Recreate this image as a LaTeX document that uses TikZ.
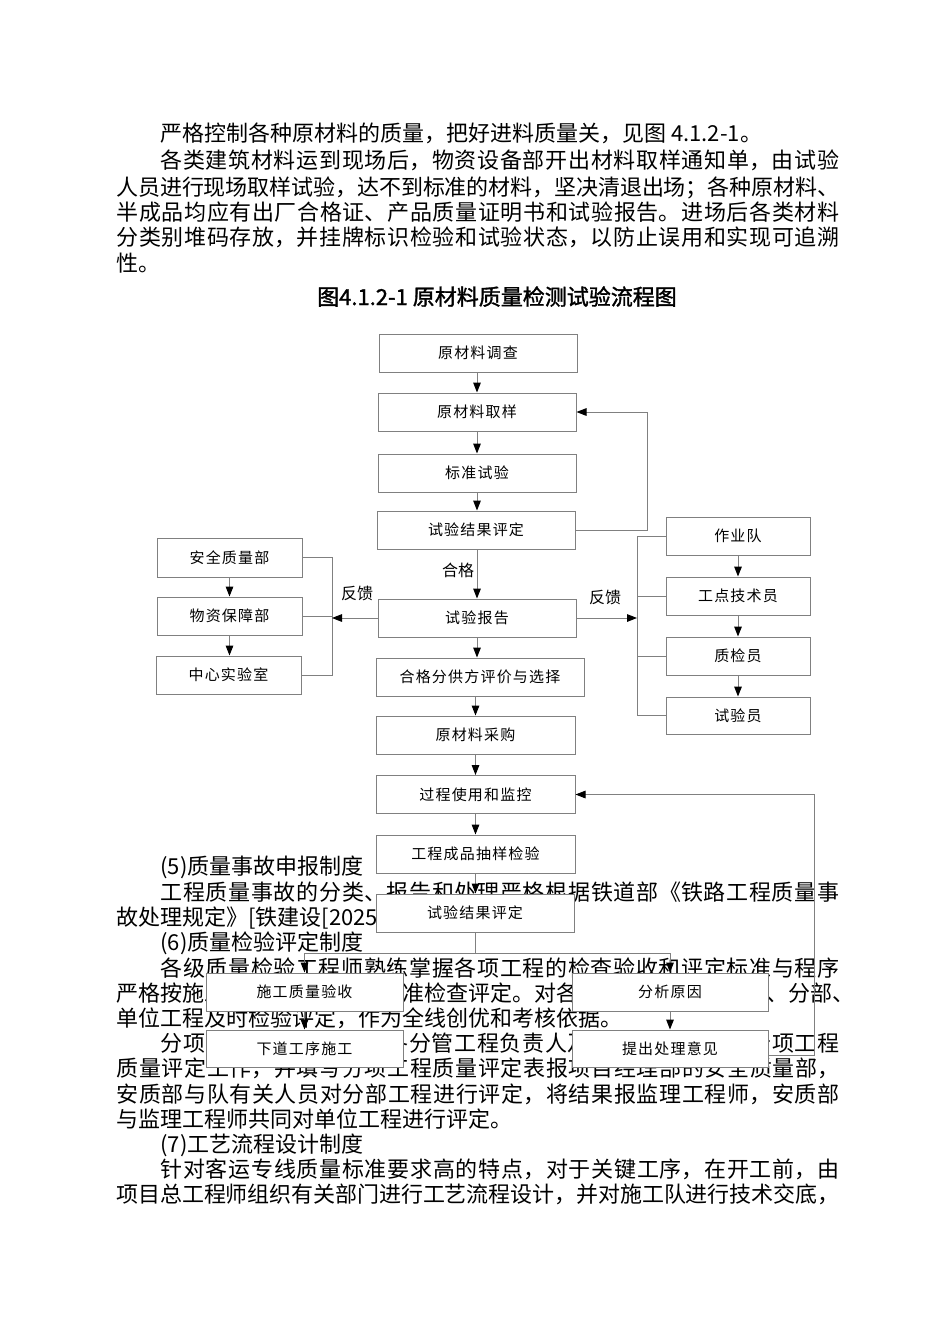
\documentclass[tikz,border=0pt]{standalone}
\usepackage{fontspec}
\setmainfont{Noto Sans CJK SC}
\newfontfamily\titlefont{Noto Sans CJK SC}[FakeBold=1.5]
\newfontfamily\boxfont{Noto Sans CJK SC}[LetterSpace=8]
\usetikzlibrary{arrows.meta}
\XeTeXlinebreaklocale "zh"
\XeTeXlinebreakskip=0pt plus 3pt minus 0.6pt
\definecolor{lg}{RGB}{128,128,128}
\newcommand\jl[3]{\node[txt] at (#1,#2+8) {\parbox[b]{\dimexpr(839pt-#1pt)/2\relax}{\tolerance=10000\parfillskip=0pt\noindent #3}};}
\newcommand\nl[3]{\node[txt] at (#1,#2+8) {#3};}
\begin{document}
\begin{tikzpicture}[x=0.5pt,y=-0.5pt,
  txt/.style={anchor=base west,inner sep=0pt,font=\fontsize{11pt}{13pt}\selectfont},
  box/.style={draw=lg,fill=white,line width=0.5pt,inner sep=0pt,font=\boxfont\fontsize{7.5pt}{9pt}\selectfont},
  lab/.style={inner sep=0pt,font=\fontsize{8pt}{10pt}\selectfont},
  ln/.style={draw=lg,line width=0.5pt},
  arr/.style={ln,-{Triangle[length=5pt,width=3.8pt,color=black]}}]
\fill[white] (0,0) rectangle (950,1344);
\useasboundingbox (0,0) rectangle (950,1344);

% ---- upper text ----
\nl{160}{133}{严格控制各种原材料的质量，把好进料质量关，见图 4.1.2-1。}
\jl{160}{160}{各类建筑材料运到现场后，物资设备部开出材料取样通知单，由试验}
\jl{116}{187}{人员进行现场取样试验，达不到标准的材料，坚决清退出场；各种原材料、}
\jl{116}{212}{半成品均应有出厂合格证、产品质量证明书和试验报告。进场后各类材料}
\jl{116}{237}{分类别堆码存放，并挂牌标识检验和试验状态，以防止误用和实现可追溯}
\nl{116}{263}{性。}
\node[inner sep=0pt,anchor=base,font=\titlefont\fontsize{11pt}{13pt}\selectfont] (title) at (497,305) {图4.1.2-1 原材料质量检测试验流程图};

% ---- lower text ----
\nl{160}{866}{(5)质量事故申报制度}
\jl{160}{892}{工程质量事故的分类、报告和处理严格根据铁道部《铁路工程质量事}
\nl{116}{917}{故处理规定》[铁建设[2025]号]执行。}
\nl{160}{942}{(6)质量检验评定制度}
\jl{160}{968}{各级质量检验工程师熟练掌握各项工程的检查验收和评定标准与程序}
\nl{116}{993}{严格按施工技术规范和验收标准检查评定。对各检验批、分项工程}
\nl{766}{993}{、分部、}
\nl{116}{1018}{单位工程及时检验评定，作为全线创优和考核依据。}
\jl{160}{1043}{分项工程完成后，先由各分管工程负责人及质检工程师进行分项工程}
\jl{116}{1068}{质量评定工作，并填写分项工程质量评定表报项目经理部的安全质量部，}
\jl{116}{1094}{安质部与队有关人员对分部工程进行评定，将结果报监理工程师，安质部}
\nl{116}{1119}{与监理工程师共同对单位工程进行评定。}
\nl{160}{1144}{(7)工艺流程设计制度}
\jl{160}{1169}{针对客运专线质量标准要求高的特点，对于关键工序，在开工前，由}
\jl{116}{1194}{项目总工程师组织有关部门进行工艺流程设计，并对施工队进行技术交底，}

% ---- boxes ----
\node[box,minimum width=99pt,minimum height=19pt] (b1) at (478,353) {原材料调查};
\node[box,minimum width=99pt,minimum height=19pt] (b2) at (477,412) {原材料取样};
\node[box,minimum width=99pt,minimum height=19pt] (b3) at (477,473) {标准试验};
\node[box,minimum width=99pt,minimum height=19pt] (b4) at (476,530) {试验结果评定};
\node[box,minimum width=99pt,minimum height=19pt] (b5) at (477,618) {试验报告};
\node[box,minimum width=104pt,minimum height=19pt] (b6) at (480,677) {合格分供方评价与选择};
\node[box,minimum width=99.5pt,minimum height=19pt] (b7) at (475.5,735) {原材料采购};
\node[box,minimum width=99.5pt,minimum height=19pt] (b8) at (475.5,794.5) {过程使用和监控};
\node[box,minimum width=99.5pt,minimum height=19pt] (b9) at (475.5,854) {工程成品抽样检验};
\node[box,minimum width=99pt,minimum height=19pt] (b10) at (475,913) {试验结果评定};
\node[box,minimum width=98.5pt,minimum height=19pt] (b11) at (304.5,992) {施工质量验收};
\node[box,minimum width=98.5pt,minimum height=18.5pt] (b12) at (304.5,1048.5) {下道工序施工};
\node[box,minimum width=98pt,minimum height=19pt] (b13) at (670,992) {分析原因};
\node[box,minimum width=98pt,minimum height=18.5pt] (b14) at (670,1048.5) {提出处理意见};
\node[box,minimum width=72.5pt,minimum height=19.5pt] (l1) at (229.5,557.5) {安全质量部};
\node[box,minimum width=72.5pt,minimum height=19pt] (l2) at (229.5,616) {物资保障部};
\node[box,minimum width=72.5pt,minimum height=19pt] (l3) at (228.5,675) {中心实验室};
\node[box,minimum width=72pt,minimum height=19pt] (r1) at (738,536) {作业队};
\node[box,minimum width=72pt,minimum height=19pt] (r2) at (738,596) {工点技术员};
\node[box,minimum width=72pt,minimum height=19pt] (r3) at (738,656) {质检员};
\node[box,minimum width=72pt,minimum height=18.5pt] (r4) at (738,715.5) {试验员};

% ---- labels ----
\node[lab] (hg) at (458,570) {合格};
\node[lab] (fk1) at (357,593) {反馈};
\node[lab] (fk2) at (605,597) {反馈};

% ---- main column ----
\draw[arr] (b1.south -| b2.north) -- (b2.north);
\draw[arr] (b2.south) -- (b2.south |- b3.north);
\draw[arr] (b3.south) -- (b3.south |- b4.north);
\draw[arr] (b5.north |- b4.south) -- (b5.north);
\draw[arr] (b5.south) -- (b5.south |- b6.north);
\draw[arr] (b7.north |- b6.south) -- (b7.north);
\draw[arr] (b7.south) -- (b8.north);
\draw[arr] (b8.south) -- (b9.north);
\draw[arr] (b9.south) -- (b9.south |- b10.north);
\coordinate (fa) at (647,530);
\draw[arr] (b4.east) -- (fa) |- (b2.east);

% ---- left feedback ----
\coordinate (lbar) at (332,618);
\draw[ln] (l1.east) -| (lbar);
\draw[ln] (l3.east) -| (lbar);
\draw[ln] (l2.east) -- (l2.east -| lbar);
\draw[arr] (b5.west) -- (lbar);
\draw[arr] (l1.south) -- (l1.south |- l2.north);
\draw[arr] (l2.south) -- (l2.south |- l3.north);

% ---- right feedback ----
\coordinate (rbar) at (637,618);
\draw[ln] (r1.west) -| (rbar);
\draw[ln] (r4.west) -| (rbar);
\draw[ln] (r2.west) -- (r2.west -| rbar);
\draw[ln] (r3.west) -- (r3.west -| rbar);
\draw[arr] (b5.east) -- (rbar);
\draw[arr] (r1.south) -- (r2.north);
\draw[arr] (r2.south) -- (r3.north);
\draw[arr] (r3.south) -- (r4.north);

% ---- lower split ----
\coordinate (sp) at (475,953);
\draw[ln] (b10.south) -- (sp);
\draw[arr] (sp) -| (b11.north);
\draw[arr] (sp) -| (b13.north);
\draw[arr] (b11.south) -- (b12.north);
\draw[arr] (b13.south) -- (b14.north);
\draw[arr] ([yshift=-3.25pt]b14.east) -- ++(46,0) |- (b8.east);
\end{tikzpicture}
\end{document}
